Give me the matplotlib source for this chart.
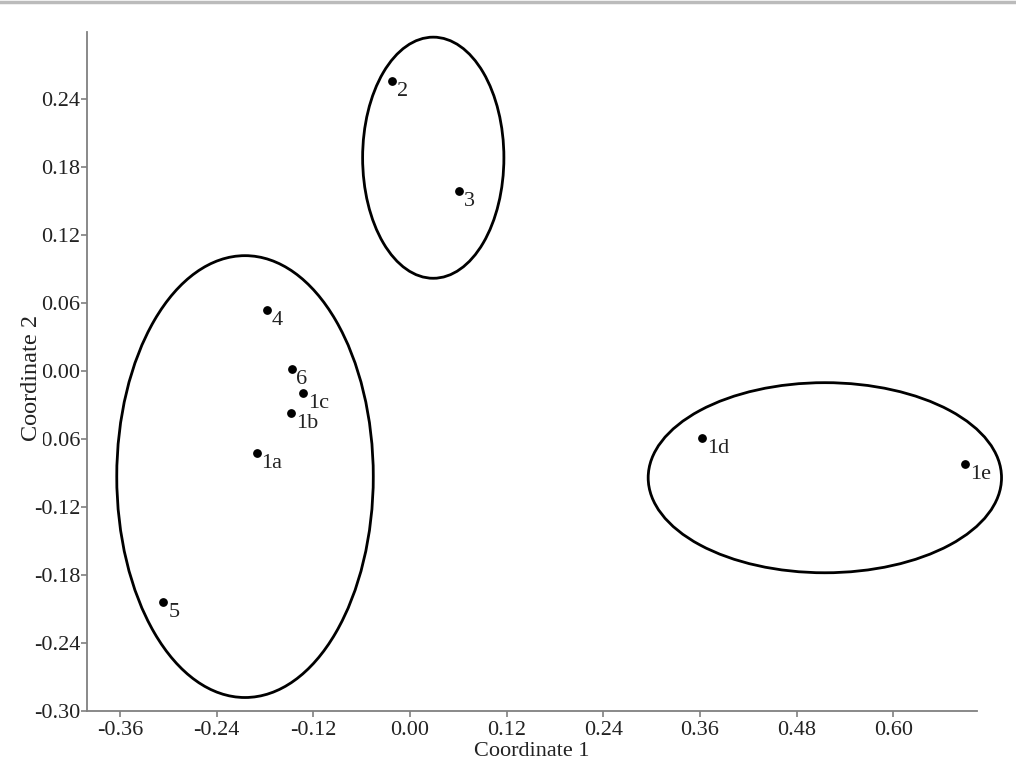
import matplotlib
matplotlib.use("Agg")
import matplotlib.pyplot as plt
from matplotlib.patches import Ellipse
from matplotlib.lines import Line2D

plt.rcParams['font.family'] = ['Liberation Serif', 'DejaVu Serif']

# data
labels = ['2', '3', '4', '6', '1c', '1b', '1a', '5', '1d', '1e']
coord1 = [-0.022, 0.061, -0.1775, -0.147, -0.133, -0.1477, -0.1903, -0.3062, 0.3625, 0.6889]
coord2 = [0.256, 0.159, 0.0538, 0.0014, -0.0198, -0.0369, -0.0722, -0.2042, -0.0589, -0.0824]

# group ellipses: center x, center y, width, height
ell_cx = [0.0289, -0.2048, 0.5151]
ell_cy = [0.1881, -0.0932, -0.0942]
ell_w = [0.1754, 0.3185, 0.4387]
ell_h = [0.2127, 0.3898, 0.1677]

xticks = [-0.36, -0.24, -0.12, 0.00, 0.12, 0.24, 0.36, 0.48, 0.60]
yticks = [-0.30, -0.24, -0.18, -0.12, -0.06, 0.00, 0.06, 0.12, 0.18, 0.24]

fig = plt.figure(figsize=(10.16, 7.68), dpi=100)
ax = fig.add_axes([87/1016, 1-711/768, 890/1016, 679/768])

for cx, cy, w, h in zip(ell_cx, ell_cy, ell_w, ell_h):
    ax.add_patch(Ellipse((cx, cy), w, h, fill=False, edgecolor='black',
                         linewidth=2.0, clip_on=False, zorder=2))

ax.scatter(coord1, coord2, s=28, color='black', zorder=3, clip_on=False)
for x, y, t in zip(coord1, coord2, labels):
    ax.annotate(t, (x, y), xytext=(3.5, -7.5), textcoords='offset points',
                ha='left', va='center', fontsize=16, color='#222222')

ax.set_xlim(-0.401, 0.704)
ax.set_ylim(-0.30, 0.299)
ax.set_xticks(xticks)
ax.set_xticklabels([f"{v:.2f}" for v in xticks])
ax.set_yticks(yticks)
ax.set_yticklabels([f"{v:.2f}" for v in yticks])

for s in ['top', 'right']:
    ax.spines[s].set_visible(False)
for s in ['left', 'bottom']:
    ax.spines[s].set_color('#808080')
    ax.spines[s].set_linewidth(1.3)

ax.tick_params(axis='both', direction='out', length=4, width=1.2, color='#808080',
               labelsize=16, labelcolor='#222222')
ax.tick_params(axis='x', pad=3)
ax.tick_params(axis='y', pad=1)

ax.set_xlabel('Coordinate 1', fontsize=16, color='#222222', labelpad=2)
ax.set_ylabel('Coordinate 2', fontsize=17.5, color='#222222',
              bbox=dict(facecolor='white', edgecolor='none', pad=1))
ax.yaxis.set_label_coords(-0.051, 0.49)

fig.add_artist(Line2D([0, 1], [0.998, 0.998], color='#bbbbbb', linewidth=2.5,
                      transform=fig.transFigure))

fig.savefig('out.png', dpi=100)
